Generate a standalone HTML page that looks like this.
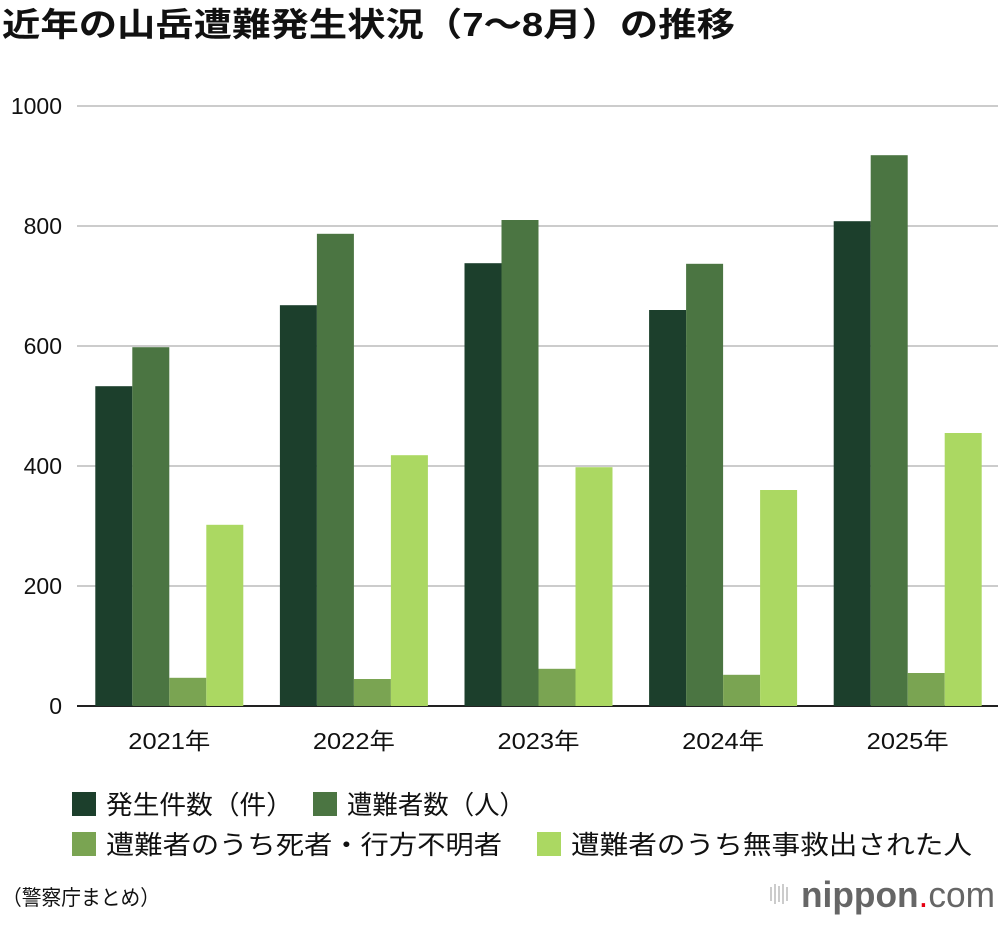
<!DOCTYPE html>
<html><head><meta charset="utf-8">
<style>
body{margin:0;background:#fff;width:1000px;height:920px;overflow:hidden;font-family:"Liberation Sans","Noto Sans CJK JP",sans-serif;}
svg text{font-family:"Liberation Sans","Noto Sans CJK JP",sans-serif;}
</style></head>
<body>
<svg id="chart" width="1000" height="920" viewBox="0 0 1000 920">
<text x="2" y="36" font-size="33" font-weight="bold" fill="#111" textLength="733" lengthAdjust="spacingAndGlyphs">近年の山岳遭難発生状況（7〜8月）の推移</text>
<g id="grid"></g>
<g id="bars"></g>
<g id="xlabels"></g>
<g>
<rect x="72" y="792" width="24" height="24" fill="#1c3f2c"/>
<text x="106" y="814" font-size="26" fill="#111" textLength="187" lengthAdjust="spacingAndGlyphs">発生件数（件）</text>
<rect x="313" y="792" width="24" height="24" fill="#4b7542"/>
<text x="347" y="814" font-size="26" fill="#111" textLength="178" lengthAdjust="spacingAndGlyphs">遭難者数（人）</text>
<rect x="72" y="832" width="24" height="24" fill="#7aa452"/>
<text x="106" y="854" font-size="26" fill="#111" textLength="396" lengthAdjust="spacingAndGlyphs">遭難者のうち死者・行方不明者</text>
<rect x="537" y="832" width="24" height="24" fill="#abd862"/>
<text x="571" y="854" font-size="26" fill="#111" textLength="401" lengthAdjust="spacingAndGlyphs">遭難者のうち無事救出された人</text>
</g>
<text x="2" y="905" font-size="21" fill="#111" textLength="158" lengthAdjust="spacingAndGlyphs">（警察庁まとめ）</text>
<g>
<rect x="770" y="887" width="2" height="14" fill="#ccc"/><rect x="774" y="884" width="2" height="20" fill="#ccc"/><rect x="778" y="886" width="2" height="16" fill="#ccc"/><rect x="782" y="884" width="2" height="20" fill="#ccc"/><rect x="786" y="887" width="2" height="14" fill="#ccc"/>
<text x="801" y="907" font-size="36" fill="#666" textLength="194" lengthAdjust="spacingAndGlyphs"><tspan font-weight="bold">nippon</tspan><tspan fill="#e60012">.</tspan><tspan>com</tspan></text>
</g>
</svg>
<script>
const years=["2021年","2022年","2023年","2024年","2025年"];
const incidents=[533,668,738,660,808];
const victims=[598,787,810,737,918];
const dead=[47,45,62,52,55];
const rescued=[302,418,398,360,455];
const ticks=[0,200,400,600,800,1000];
const NS="http://www.w3.org/2000/svg";
const x0=77,x1=1000,y0=706,yTop=106,maxV=1000;
const slot=(x1-x0)/years.length;
const yS=v=>y0-(v/maxV)*(y0-yTop);
const grid=document.getElementById('grid');
ticks.forEach(t=>{
  const l=document.createElementNS(NS,'line');
  l.setAttribute('x1',x0);l.setAttribute('x2',998);l.setAttribute('y1',yS(t));l.setAttribute('y2',yS(t));
  l.setAttribute('stroke',t===0?'#222':'#ccc');l.setAttribute('stroke-width',2);
  
  
  grid.appendChild(l);
  const tx=document.createElementNS(NS,'text');
  tx.setAttribute('x',62);tx.setAttribute('y',yS(t)+8);tx.setAttribute('text-anchor','end');tx.setAttribute('font-size','23');tx.setAttribute('fill','#111');
  tx.textContent=t;
  
  
  grid.appendChild(tx);
});
const series=[[incidents,'#1c3f2c','incidents'],[victims,'#4b7542','victims'],[dead,'#7aa452','dead'],[rescued,'#abd862','rescued']];
const bw=37;
const bars=document.getElementById('bars');
const xl=document.getElementById('xlabels');
years.forEach((yr,i)=>{
  const c=x0+slot*(i+0.5);
  const start=c-bw*2;
  series.forEach((s,j)=>{
    const r=document.createElementNS(NS,'rect');
    const v=s[0][i];
    r.setAttribute('x',start+j*bw);r.setAttribute('width',bw);
    r.setAttribute('y',yS(v));r.setAttribute('height',y0-yS(v));r.setAttribute('fill',s[1]);
    
    
    bars.appendChild(r);
  });
  const t=document.createElementNS(NS,'text');
  t.setAttribute('x',c);t.setAttribute('y',749);t.setAttribute('text-anchor','middle');t.setAttribute('font-size','23');t.setAttribute('fill','#111');
  t.setAttribute('textLength','82');t.setAttribute('lengthAdjust','spacingAndGlyphs');
  t.textContent=yr;
  
  
  xl.appendChild(t);
});
</script>
</body></html>
